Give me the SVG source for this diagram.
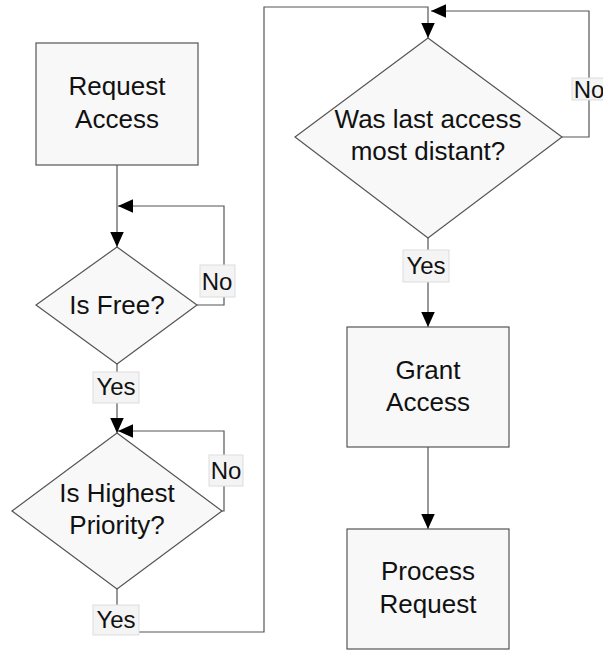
<svg xmlns="http://www.w3.org/2000/svg" width="603" height="650" viewBox="0 0 603 650">
<defs>
<marker id="arr" viewBox="0 0 10 10" refX="10" refY="5" markerWidth="15" markerHeight="15" markerUnits="userSpaceOnUse" orient="auto">
<path d="M0,0.5 L10,5 L0,9.5 Z" fill="#000"/>
</marker>
</defs>
<style>
.shape{fill:#f8f8f8;stroke:#555;stroke-width:1.2}
.txt{font-family:'Liberation Sans',Arial,Helvetica,sans-serif;font-size:26px;fill:#111;text-anchor:middle}
.lbl{fill:#f4f4f4;stroke:#ddd;stroke-width:1}
.ltxt{font-family:'Liberation Sans',Arial,Helvetica,sans-serif;font-size:24px;fill:#111;text-anchor:middle}
.conn{fill:none;stroke:#555;stroke-width:1.2}
</style>
<rect width="603" height="650" fill="#fff"/>
<g id="connectors">
<path class="conn" d="M117,165 V247" marker-end="url(#arr)"/>
<path class="conn" d="M197,305 H224 V206 H118" marker-end="url(#arr)"/>
<path class="conn" d="M117,364 V433" marker-end="url(#arr)"/>
<path class="conn" d="M222,511 H224 V431 H118" marker-end="url(#arr)"/>
<path class="conn" d="M117,589 V632 H264 V7 H428 V38" marker-end="url(#arr)"/>
<path class="conn" d="M562,137 H589 V11 H431" marker-end="url(#arr)"/>
<path class="conn" d="M428,238 V327" marker-end="url(#arr)"/>
<path class="conn" d="M428,447 V529" marker-end="url(#arr)"/>
</g>
<g id="request-access">
<rect class="shape" x="36" y="43" width="162" height="122"/>
<text class="txt" x="117" y="95">Request</text>
<text class="txt" x="117" y="128">Access</text>
</g>
<g id="is-free">
<polygon class="shape" points="117,247 197,305 117,364 36,305"/>
<text class="txt" x="117" y="314">Is Free?</text>
</g>
<g id="is-highest">
<polygon class="shape" points="117,433 222,511 117,589 12,511"/>
<text class="txt" x="117" y="502">Is Highest</text>
<text class="txt" x="117" y="534">Priority?</text>
</g>
<g id="was-last">
<polygon class="shape" points="428,38 562,137 428,238 295,137"/>
<text class="txt" x="428" y="128">Was last access</text>
<text class="txt" x="428" y="160">most distant?</text>
</g>
<g id="grant-access">
<rect class="shape" x="347" y="327" width="162" height="120"/>
<text class="txt" x="428" y="379">Grant</text>
<text class="txt" x="428" y="411">Access</text>
</g>
<g id="process-request">
<rect class="shape" x="347" y="529" width="162" height="120"/>
<text class="txt" x="428" y="580">Process</text>
<text class="txt" x="428" y="613">Request</text>
</g>
<g id="labels">
<rect class="lbl" x="200" y="265" width="35" height="32"/>
<text class="ltxt" x="217" y="290">No</text>
<rect class="lbl" x="93" y="372" width="46" height="31"/>
<text class="ltxt" x="116" y="395">Yes</text>
<rect class="lbl" x="209" y="455" width="34" height="31"/>
<text class="ltxt" x="226" y="479">No</text>
<rect class="lbl" x="93" y="605" width="46" height="30"/>
<text class="ltxt" x="116" y="628">Yes</text>
<rect class="lbl" x="572" y="78" width="35" height="22"/>
<text class="ltxt" x="589" y="98">No</text>
<rect class="lbl" x="403" y="250" width="46" height="32"/>
<text class="ltxt" x="426" y="274">Yes</text>
</g>
</svg>
